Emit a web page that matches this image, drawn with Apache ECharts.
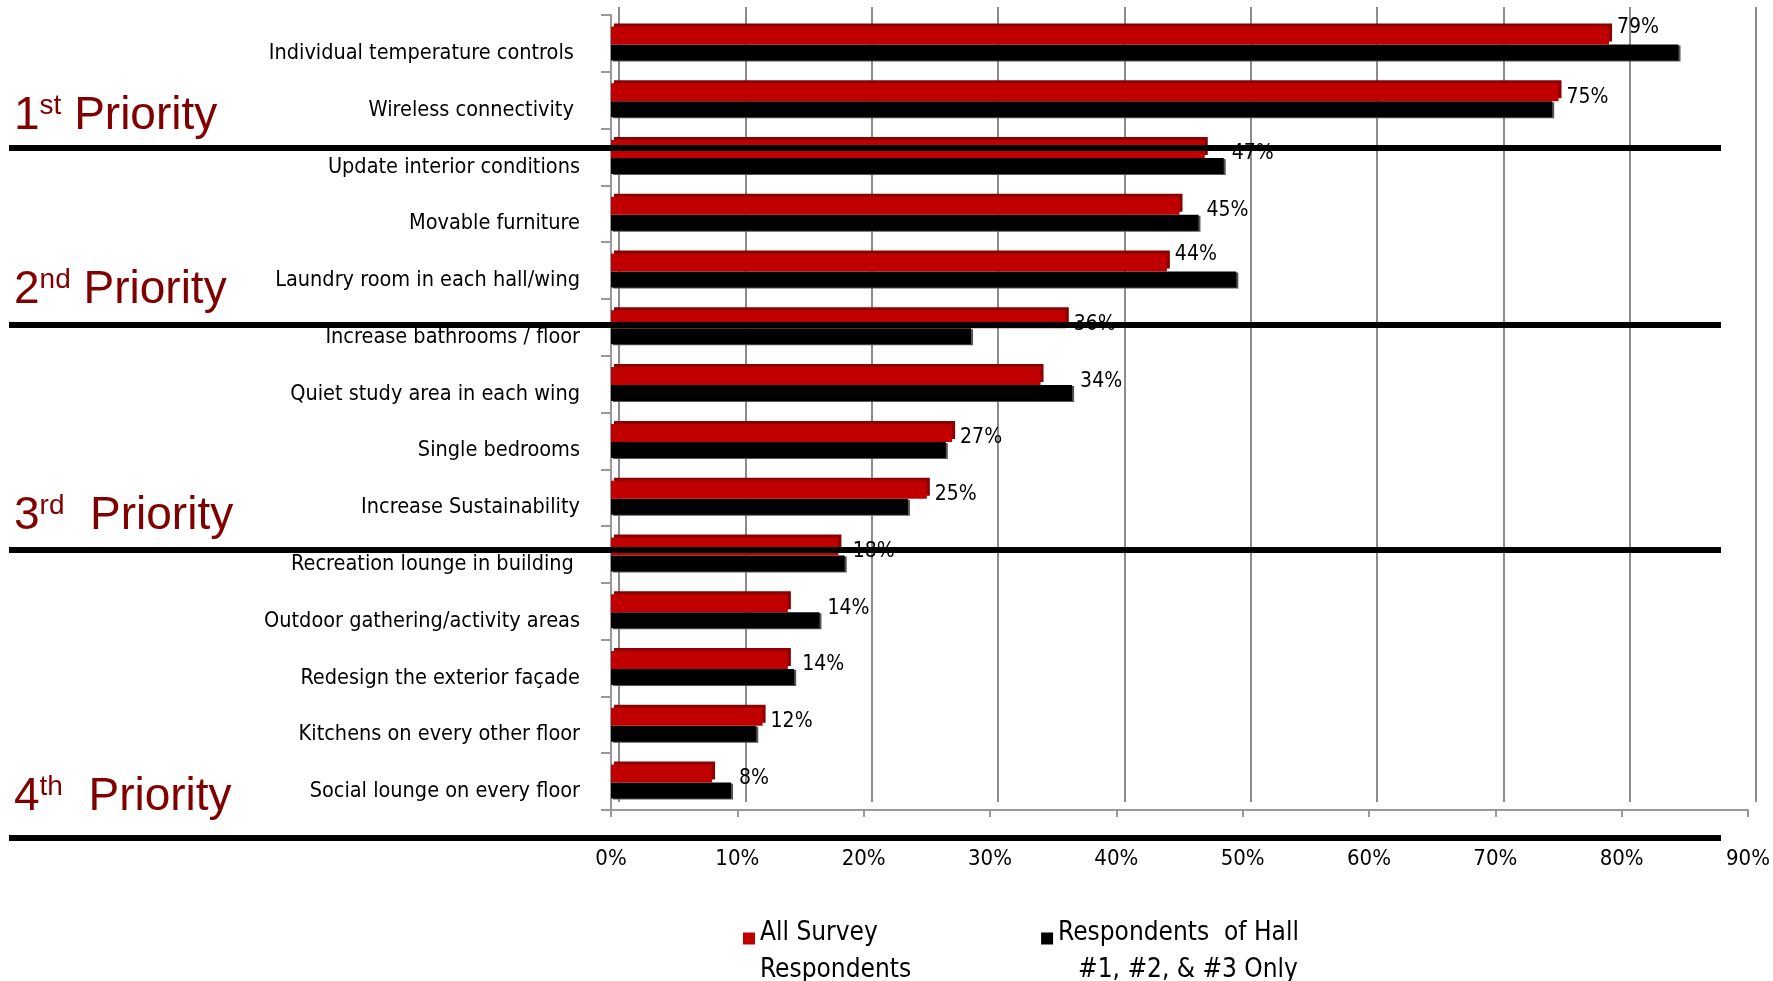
<!DOCTYPE html>
<html>
<head>
<meta charset="utf-8">
<script src="https://cdn.jsdelivr.net/npm/echarts@6/dist/echarts.min.js"></script>
<style>
  html, body { margin: 0; padding: 0; background: #fff; }
  #chart { width: 1773px; height: 981px; }
</style>
</head>
<body>
<div id="chart"></div>
<script>
// 数据
const categories = [
  "Individual temperature controls ",
  "Wireless connectivity ",
  "Update interior conditions",
  "Movable furniture",
  "Laundry room in each hall/wing",
  "Increase bathrooms / floor",
  "Quiet study area in each wing",
  "Single bedrooms",
  "Increase Sustainability",
  "Recreation lounge in building ",
  "Outdoor gathering/activity areas",
  "Redesign the exterior façade",
  "Kitchens on every other floor",
  "Social lounge on every floor"
];
const allSurvey = [79, 75, 47, 45, 44, 36, 34, 27, 25, 18, 14, 14, 12, 8];
const hallOnly = [84.5, 74.5, 48.5, 46.5, 49.5, 28.5, 36.5, 26.5, 23.5, 18.5, 16.5, 14.5, 11.5, 9.5];
const xTicks = [0, 10, 20, 30, 40, 50, 60, 70, 80, 90];
const seriesNames = ["All Survey Respondents", "Respondents  of Hall #1, #2, & #3 Only"];
const priorities = [
  { num: "1", sup: "st", gap: " " },
  { num: "2", sup: "nd", gap: " " },
  { num: "3", sup: "rd", gap: "  " },
  { num: "4", sup: "th", gap: "  " }
];

const FONT = '"DejaVu Sans Condensed", "Liberation Sans Narrow", sans-serif';
const PFONT = '"Liberation Sans", Arial, sans-serif';
const RED = "#C00000";
const DARK_RED = "#8B0000";
const GRID_GRAY = "#8c8c8c";

const GRID_LEFT = 611, GRID_RIGHT = 25, GRID_TOP = 15, GRID_BOTTOM = 171;
const DEPTH = 8; // 3D 背板的偏移
const ppu = (1773 - GRID_LEFT - GRID_RIGHT) / 90;

// 数据标签位置：黑柱更长时把标签往右/往上挪
const redData = allSurvey.map((v, i) => {
  const diff = hallOnly[i] - v;
  let offset = [0, 5];
  if (diff > 5) offset = [0, -8];
  else if (diff > 0) offset = [diff * ppu, 5];
  return { value: v, label: { offset } };
});

const chart = echarts.init(document.getElementById("chart"));

const sepY = [148, 325, 550, 838];
const priorityY = [113, 287, 513, 794];

const graphics = [];
sepY.forEach(y => {
  graphics.push({
    type: "rect", z: 100,
    shape: { x: 9, y: y - 3, width: 1712, height: 6 },
    style: { fill: "#000" }
  });
});
priorities.forEach((p, i) => {
  graphics.push({
    type: "text", z: 100, left: 14, top: priorityY[i] - 21,
    style: {
      text: `{n|${p.num}}{s|${p.sup}}{n|${p.gap}Priority}`,
      rich: {
        n: { fontSize: 46, fontFamily: PFONT, fill: "#800000", lineHeight: 60 },
        s: { fontSize: 28, fontFamily: PFONT, fill: "#800000", padding: [0, 0, 20, 0] }
      }
    }
  });
});

chart.setOption({
  animation: false,
  textStyle: { fontFamily: FONT },
  grid: [
    { left: GRID_LEFT, right: GRID_RIGHT, top: GRID_TOP, bottom: GRID_BOTTOM },
    // 背板网格线
    { left: GRID_LEFT + DEPTH, right: GRID_RIGHT - DEPTH, top: GRID_TOP - DEPTH, bottom: GRID_BOTTOM + DEPTH }
  ],
  legend: {
    left: 738, top: 883,
    itemWidth: 12, itemHeight: 12, itemGap: 130,
    icon: "rect",
    data: seriesNames,
    formatter: name => name === seriesNames[0]
      ? "\n{a|All Survey}\n{a|Respondents}"
      : "\n{a|Respondents  of Hall}\n{b|#1, #2, & #3 Only}",
    textStyle: {
      fontFamily: FONT, fontSize: 26, color: "#000",
      rich: {
        a: { fontFamily: FONT, fontSize: 26, lineHeight: 37.5, color: "#000" },
        b: { fontFamily: FONT, fontSize: 26, lineHeight: 37.5, color: "#000", padding: [0, 0, 0, 20] }
      }
    }
  },
  xAxis: [
    {
      type: "value", min: 0, max: 90, interval: 10, gridIndex: 0,
      axisLine: { show: true, lineStyle: { color: "#999", width: 2 } },
      axisTick: { show: true, length: 7, lineStyle: { color: "#999", width: 2 } },
      axisLabel: {
        formatter: v => xTicks.includes(v) ? v + "%" : "",
        fontFamily: FONT, fontSize: 22, color: "#000", margin: 38
      },
      splitLine: { show: false }
    },
    {
      type: "value", min: 0, max: 90, interval: 10, gridIndex: 1,
      axisLine: { show: false }, axisTick: { show: false }, axisLabel: { show: false },
      splitLine: { show: true, lineStyle: { color: GRID_GRAY, width: 2 } }
    }
  ],
  yAxis: [
    {
      type: "category", inverse: true, data: categories, gridIndex: 0,
      axisLine: { show: true, lineStyle: { color: "#999", width: 2 } },
      axisTick: { show: true, length: 10, lineStyle: { color: "#999", width: 2 } },
      axisLabel: {
        fontFamily: FONT, fontSize: 21.5, color: "#000", margin: 31,
        verticalAlign: "top", lineHeight: 20
      }
    },
    {
      type: "category", inverse: true, data: categories, gridIndex: 1,
      axisLine: { show: false }, axisTick: { show: false }, axisLabel: { show: false }
    }
  ],
  series: [
    {
      name: seriesNames[0], type: "bar", data: redData,
      xAxisIndex: 0, yAxisIndex: 0,
      barWidth: 18, barGap: "0%",
      itemStyle: {
        color: RED, shadowColor: DARK_RED, shadowBlur: 0,
        shadowOffsetX: 3, shadowOffsetY: -3
      },
      label: {
        show: true, position: "right", distance: 8,
        formatter: "{c}%", fontFamily: FONT, fontSize: 21, color: "#000"
      },
      z: 3
    },
    {
      name: seriesNames[1], type: "bar", data: hallOnly,
      xAxisIndex: 0, yAxisIndex: 0,
      barWidth: 16, barGap: "0%",
      itemStyle: {
        color: "#000", shadowColor: "#555", shadowBlur: 0,
        shadowOffsetX: 2, shadowOffsetY: 1
      },
      z: 2
    }
  ],
  graphic: graphics
});
</script>
</body>
</html>
